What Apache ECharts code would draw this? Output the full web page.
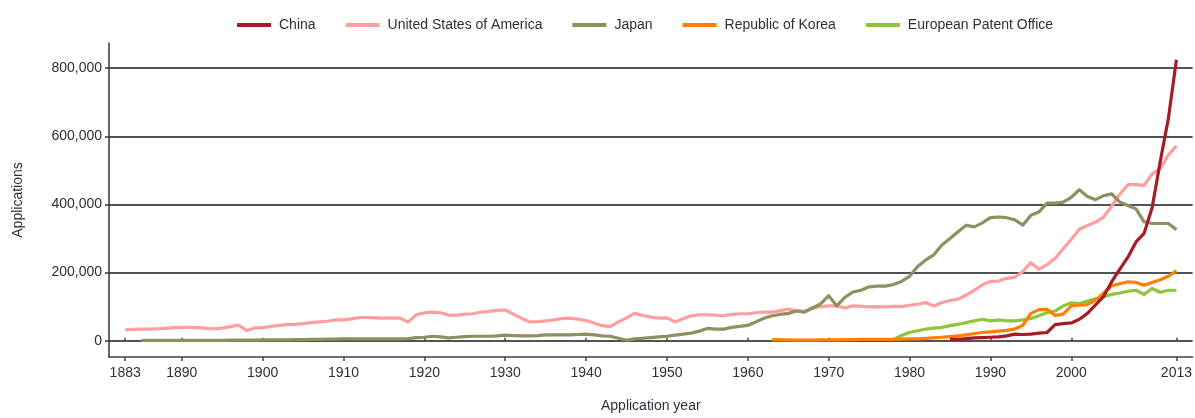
<!DOCTYPE html>
<html><head><meta charset="utf-8">
<script src="https://cdn.jsdelivr.net/npm/echarts@6/dist/echarts.min.js"></script>
<style>html,body{margin:0;padding:0;background:#fff}#c{width:1195px;height:418px}</style>
</head><body><div id="c"></div>
<script>
const seriesNames = ['China', 'United States of America', 'Japan', 'Republic of Korea', 'European Patent Office'];
const xTickYears = [1883, 1890, 1900, 1910, 1920, 1930, 1940, 1950, 1960, 1970, 1980, 1990, 2000, 2013];
const yTickValues = [0, 200000, 400000, 600000, 800000];

const usaStart = 1883;
const usaValues = [
  32000,33000,34000,34000,35000,36000,38000,39000,39000,38000,
  36000,35000,37000,41000,46000,30000,37000,38000,42000,45000,
  47000,48000,50000,53000,55000,57000,61000,61000,64000,68000,
  68000,67000,66000,67000,66000,55000,76000,82000,84000,82000,
  75000,75000,78000,79000,84000,86000,89000,90000,78000,66000,
  55000,56000,58000,61000,65000,66000,63000,59000,52000,44000,
  41000,55000,67000,80000,74000,69000,66000,67000,55000,64000,
  73000,76000,76000,75000,73000,77000,79000,79000,82000,84000,
  84000,88000,93000,88000,86000,96000,100000,102000,102000,96000,
  102000,101000,99000,100000,99000,101000,100000,104000,107000,112000,
  102000,112000,118000,122000,134000,148000,164000,174000,175000,183000,
  186000,203000,229000,210000,223000,242000,270000,298000,327000,338000,
  348000,363000,395000,430000,458000,458000,456000,490000,505000,545000,
  572000
];

const japanStart = 1885;
const japanValues = [
  500,1000,1000,1000,1000,1000,1000,1000,1000,1000,
  1000,1500,1500,1500,1500,2000,2500,2500,2500,3000,
  3000,3500,4000,4500,4500,5000,5000,5000,5000,5000,
  5000,5500,5500,6000,9000,10000,13000,11000,8000,10000,
  12000,13000,13000,13000,14000,16000,15000,14000,14000,15000,
  17000,17000,17000,17000,18000,19000,17000,14000,13000,7000,
  1000,5000,7000,9000,11000,13000,16000,19000,22000,28000,
  36000,34000,34000,39000,42000,45000,55000,66000,73000,77000,
  80000,87000,84000,96000,108000,132000,102000,127000,143000,148000,
  158000,160000,160000,165000,174000,189000,218000,237000,252000,281000,
  300000,320000,339000,334000,346000,361000,363000,361000,355000,339000,
  368000,378000,404000,404000,407000,421000,443000,423000,414000,426000,
  431000,407000,397000,387000,349000,344000,344000,344000,326000
];

const koreaStart = 1963;
const koreaValues = [
  3000,2500,2000,1500,1500,1500,2000,2000,2500,3000,
  3000,3500,3500,4000,4000,4000,4500,5000,5500,6500,
  8000,10000,12000,14000,17000,21000,24000,26000,28000,30000,
  34000,45000,80000,91000,92000,74000,78000,102000,104000,106000,
  119000,140000,161000,167000,173000,171000,163000,171000,179000,189000,
  205000
];

const epoStart = 1978;
const epoValues = [
  3000,15000,24000,29000,34000,37000,39000,44000,48000,53000,
  58000,63000,58000,61000,58000,58000,61000,65000,73000,82000,
  87000,102000,111000,109000,116000,123000,129000,136000,140000,145000,
  148000,136000,153000,142000,148000,148000
];

const chinaStart = 1985;
const chinaValues = [
  4000,4000,6000,8000,9000,10000,11000,14000,19000,18000,
  19000,22000,24000,47000,50000,52000,63000,80000,105000,130000,
  173000,210000,245000,290000,315000,391000,526000,652000,825000
];

function pairs(start, values) {
  return values.map(function (v, i) { return [start + i, v]; });
}

const textColor = '#2d2f3a';
const fontFamily = '"Liberation Sans", Arial, sans-serif';
const fontSize = 14;

function lineSeries(name, start, values, color, z) {
  return {
    name: name, type: 'line', data: pairs(start, values),
    showSymbol: false, symbol: 'none', z: z,
    lineStyle: { color: color, width: 3.2, join: 'round' },
    itemStyle: { color: color },
    emphasis: { disabled: true }
  };
}

const chart = echarts.init(document.getElementById('c'), null, { renderer: 'canvas' });
chart.setOption({
  animation: false,
  backgroundColor: '#ffffff',
  textStyle: { fontFamily: fontFamily },
  legend: {
    data: seriesNames,
    left: 232, top: 13,
    icon: 'rect', itemWidth: 34, itemHeight: 4, itemGap: 30,
    textStyle: { color: textColor, fontSize: fontSize, fontFamily: fontFamily, padding: [0, 0, 0, 3] }
  },
  grid: { left: 109, right: 0, top: 43, bottom: 56 },
  xAxis: [{
    type: 'value', min: 1881, max: 2015,
    name: 'Application year', nameLocation: 'middle', nameGap: 42,
    nameTextStyle: { color: textColor, fontSize: fontSize, fontFamily: fontFamily },
    axisLine: { show: true, onZero: false, lineStyle: { color: '#444', width: 1.5 } },
    axisTick: { show: true, customValues: xTickYears, length: 4, lineStyle: { color: '#444', width: 1.5 } },
    axisLabel: { customValues: xTickYears, color: textColor, fontSize: fontSize, margin: 9, fontFamily: fontFamily,
      formatter: function (v) { return String(v); } },
    splitLine: { show: false }
  }, {
    type: 'value', min: 1881, max: 2015, position: 'bottom',
    axisLine: { show: false },
    axisTick: { show: true, inside: true, customValues: xTickYears, length: 3, lineStyle: { color: '#444', width: 1.5 } },
    axisLabel: { show: false },
    splitLine: { show: false }
  }],
  yAxis: {
    type: 'value', min: -48000, max: 874000,
    name: 'Applications', nameLocation: 'middle', nameGap: 84,
    nameTextStyle: { color: textColor, fontSize: fontSize, fontFamily: fontFamily },
    axisLine: { show: true, onZero: false, lineStyle: { color: '#333', width: 1.5 } },
    axisTick: { show: true, customValues: yTickValues, length: 4, lineStyle: { color: '#333', width: 1.5 } },
    axisLabel: { customValues: yTickValues, color: textColor, fontSize: fontSize, margin: 7, fontFamily: fontFamily,
      formatter: function (v) { return v.toLocaleString('en-US'); } },
    splitLine: { show: true, lineStyle: { color: '#1a1a1a', width: 1.5 } }
  },
  series: [
    lineSeries('United States of America', usaStart, usaValues, '#ff9e9e', 2),
    lineSeries('Japan', japanStart, japanValues, '#8f8f5f', 3),
    lineSeries('European Patent Office', epoStart, epoValues, '#8cc63f', 4),
    lineSeries('Republic of Korea', koreaStart, koreaValues, '#ff7f00', 5),
    lineSeries('China', chinaStart, chinaValues, '#a51d24', 6)
  ]
});
</script>
</body></html>
